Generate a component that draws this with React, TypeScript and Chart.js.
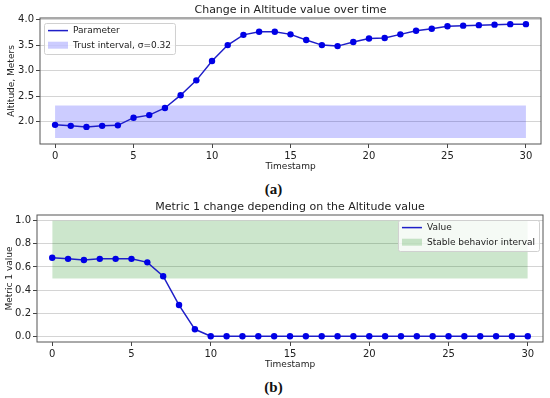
import React, { useEffect, useRef } from "react";
import { Chart, registerables } from "chart.js";

Chart.register(...registerables);

const FONT = '"DejaVu Sans", sans-serif';

const timestamps = [0, 1, 2, 3, 4, 5, 6, 7, 8, 9, 10, 11, 12, 13, 14, 15, 16, 17, 18, 19, 20, 21, 22, 23, 24, 25, 26, 27, 28, 29, 30];
const altitude = [1.94, 1.92, 1.9, 1.92, 1.93, 2.08, 2.13, 2.27, 2.52, 2.81, 3.19, 3.5, 3.7, 3.76, 3.76, 3.71, 3.6, 3.5, 3.48, 3.56, 3.63, 3.64, 3.71, 3.78, 3.82, 3.87, 3.88, 3.89, 3.9, 3.91, 3.91];
const metric = [0.68, 0.67, 0.66, 0.67, 0.67, 0.67, 0.64, 0.52, 0.27, 0.06, 0, 0, 0, 0, 0, 0, 0, 0, 0, 0, 0, 0, 0, 0, 0, 0, 0, 0, 0, 0, 0];
const timeTicks = [0, 5, 10, 15, 20, 25, 30];
const altitudeTicks = [2.0, 2.5, 3.0, 3.5, 4.0];
const metricTicks = [0.0, 0.2, 0.4, 0.6, 0.8, 1.0];
const trustBand = [1.68, 2.32];
const stableBand = [0.5, 1.0];
const bandSpan = [0, 30];

const framePlugin = {
  id: "frame",
  afterDatasetsDraw(chart: any) {
    const { ctx, chartArea: a } = chart;
    ctx.save();
    ctx.strokeStyle = "#555";
    ctx.lineWidth = 1;
    ctx.strokeRect(a.left, a.top, a.right - a.left, a.bottom - a.top);
    ctx.restore();
  },
};

const boxLegend = {
  id: "boxLegend",
  afterDatasetsDraw(chart: any, _args: any, opts: any) {
    const { ctx, chartArea: a } = chart;
    ctx.save();
    ctx.font = `9px ${FONT}`;
    const items = chart.data.datasets.map((d: any) => ({
      label: d.label,
      fill: !!d.fill,
      color: d.fill ? d.backgroundColor : d.borderColor,
    }));
    const pad = 4, sample = 20, gap = 5, rowH = 14.6, top0 = 7.6;
    const tw = Math.max(...items.map((i: any) => ctx.measureText(i.label).width));
    const w = pad + sample + gap + tw + pad;
    const h = 31;
    const x = opts.align === "right" ? a.right - opts.offsetX - w : a.left + opts.offsetX;
    const y = a.top + opts.offsetY;
    ctx.beginPath();
    ctx.roundRect(x + 0.5, y + 0.5, w, h, 2);
    ctx.fillStyle = "rgba(255,255,255,0.8)";
    ctx.fill();
    ctx.strokeStyle = "#d0d0d0";
    ctx.lineWidth = 1;
    ctx.stroke();
    items.forEach((it: any, i: number) => {
      const cy = y + top0 + i * rowH;
      if (it.fill) {
        ctx.fillStyle = it.color;
        ctx.fillRect(x + pad, cy - 3.5, sample, 7);
      } else {
        ctx.strokeStyle = it.color;
        ctx.lineWidth = 1.5;
        ctx.beginPath();
        ctx.moveTo(x + pad, cy);
        ctx.lineTo(x + pad + sample, cy);
        ctx.stroke();
      }
      ctx.fillStyle = "#222";
      ctx.textBaseline = "middle";
      ctx.textAlign = "left";
      ctx.fillText(it.label, x + pad + sample + gap, cy);
    });
    ctx.restore();
  },
};

function makeConfig(p: any) {
  return {
    type: "line",
    data: {
      datasets: [
        {
          label: p.lineLabel,
          data: timestamps.map((t, i) => ({ x: t, y: p.values[i] })),
          borderColor: "rgb(30,30,200)",
          borderWidth: 1.5,
          pointRadius: 3.2,
          pointBackgroundColor: "rgb(0,0,230)",
          pointBorderWidth: 0,
          fill: false,
          tension: 0,
        },
        {
          label: p.bandLabel,
          data: bandSpan.map((t) => ({ x: t, y: p.band[1] })),
          borderWidth: 0,
          pointRadius: 0,
          backgroundColor: p.bandColor,
          fill: { value: p.band[0] },
        },
      ],
    },
    options: {
      animation: false,
      responsive: false,
      events: [],
      layout: { padding: { left: 0, right: p.padRight, top: 0, bottom: 0 } },
      plugins: {
        legend: { display: false },
        tooltip: { enabled: false },
        title: {
          display: true,
          fullSize: false,
          text: p.title,
          color: "#222",
          font: { family: FONT, size: 11, weight: "normal", lineHeight: 1.2 },
          padding: { top: p.titleTop, bottom: p.titleBottom },
        },
        boxLegend: { align: p.legendAlign, offsetX: 4, offsetY: 5 },
      },
      scales: {
        x: {
          type: "linear",
          min: -0.96,
          max: 30.96,
          afterBuildTicks: (s: any) => {
            s.ticks = timeTicks.map((v) => ({ value: v }));
          },
          afterFit: (s: any) => {
            s.height = p.xHeight;
          },
          ticks: {
            color: "#222",
            font: { family: FONT, size: 10 },
            padding: 2,
            maxRotation: 0,
            callback: (v: any) => String(v),
          },
          grid: { drawOnChartArea: false, drawTicks: true, tickLength: 4, tickColor: "#444" },
          border: { display: false },
          title: {
            display: true,
            text: "Timestamp",
            color: "#222",
            font: { family: FONT, size: 9, lineHeight: 1.2 },
            padding: { top: 0, bottom: p.xTitleBottom },
          },
        },
        y: {
          type: "linear",
          min: p.yMin,
          max: p.yMax,
          afterBuildTicks: (s: any) => {
            s.ticks = p.yTicks.map((v: number) => ({ value: v }));
          },
          afterFit: (s: any) => {
            s.width = p.yWidth;
          },
          ticks: {
            color: "#222",
            font: { family: FONT, size: 10 },
            padding: 2,
            callback: (v: any) => Number(v).toFixed(1),
          },
          grid: { color: "#d4d4d4", lineWidth: 1, drawTicks: true, tickLength: 4, tickColor: "#444" },
          border: { display: false },
          title: {
            display: true,
            text: p.yTitle,
            color: "#222",
            font: { family: FONT, size: 9, lineHeight: 1.2 },
            padding: { top: p.yTitlePad, bottom: 0 },
          },
        },
      },
    },
    plugins: [framePlugin, boxLegend],
  };
}

function ChartCanvas({ cfg, top }: { cfg: any; top: number }) {
  const ref = useRef<HTMLCanvasElement>(null);
  useEffect(() => {
    if (!ref.current) return;
    const chart = new Chart(ref.current, makeConfig(cfg) as any);
    return () => chart.destroy();
  }, []);
  return (
    <canvas
      ref={ref}
      width={550}
      height={180}
      style={{ position: "absolute", left: 0, top, width: 550, height: 180 }}
    />
  );
}

const topCfg = {
  title: "Change in Altitude value over time",
  lineLabel: "Parameter",
  bandLabel: "Trust interval, σ=0.32",
  values: altitude,
  band: trustBand,
  bandColor: "rgba(0,0,255,0.2)",
  yTicks: altitudeTicks,
  yMin: 1.565,
  yMax: 4.03,
  yTitle: "Altitude, Meters",
  yWidth: 40,
  yTitlePad: 6,
  padRight: 9,
  titleTop: 3.4,
  titleBottom: 1.4,
  xHeight: 36,
  xTitleBottom: 7.9,
  legendAlign: "left",
};

const bottomCfg = {
  title: "Metric 1 change depending on the Altitude value",
  lineLabel: "Value",
  bandLabel: "Stable behavior interval",
  values: metric,
  band: stableBand,
  bandColor: "rgba(0,128,0,0.2)",
  yTicks: metricTicks,
  yMin: -0.05,
  yMax: 1.05,
  yTitle: "Metric 1 value",
  yWidth: 37,
  yTitlePad: 4,
  padRight: 7,
  titleTop: 5.1,
  titleBottom: 1.7,
  xHeight: 33,
  xTitleBottom: 4.6,
  legendAlign: "right",
};

const captionStyle: React.CSSProperties = {
  position: "absolute",
  left: 0,
  width: 547,
  textAlign: "center",
  fontFamily: '"Liberation Serif", serif',
  fontWeight: "bold",
  fontSize: 15,
  lineHeight: "16px",
  color: "#111",
};

export default function App() {
  return (
    <div style={{ position: "fixed", left: 0, top: 0, width: 550, height: 398, background: "#fff", overflow: "hidden" }}>
      <ChartCanvas cfg={topCfg} top={0} />
      <div style={{ ...captionStyle, top: 181 }}>(a)</div>
      <ChartCanvas cfg={bottomCfg} top={195} />
      <div style={{ ...captionStyle, top: 379 }}>(b)</div>
    </div>
  );
}
